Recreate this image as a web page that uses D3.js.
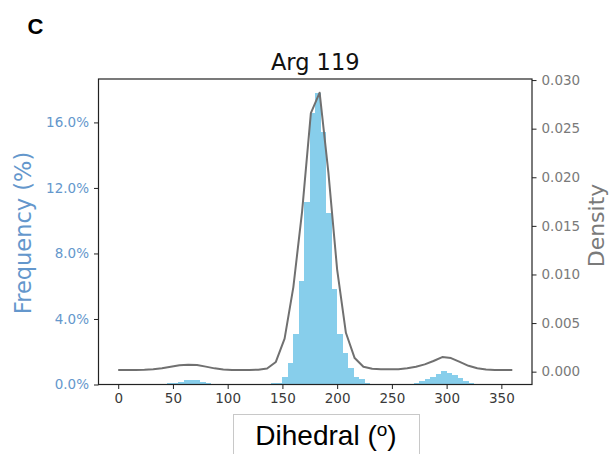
<!DOCTYPE html>
<html>
<head>
<meta charset="utf-8">
<script src="https://cdn.jsdelivr.net/npm/d3@7"></script>
<style>
  html, body { margin: 0; padding: 0; background: #ffffff; }
  svg { display: block; }
</style>
</head>
<body>
<svg id="chart" width="611" height="454"></svg>
<script>
// Histogram bins: left edge of each 5-degree bin
const binStarts = [
  0, 5, 10, 15, 20, 25, 30, 35, 40, 45, 50, 55, 60, 65, 70, 75, 80, 85,
  90, 95, 100, 105, 110, 115, 120, 125, 130, 135, 140, 145, 150, 155, 160, 165, 170, 175,
  180, 185, 190, 195, 200, 205, 210, 215, 220, 225, 230, 235, 240, 245, 250, 255, 260, 265,
  270, 275, 280, 285, 290, 295, 300, 305, 310, 315, 320, 325, 330, 335, 340, 345, 350, 355
];
const binWidth = 5;

// Frequency (%) per bin
const frequency = [
  0, 0, 0, 0, 0, 0, 0, 0, 0, 0.07, 0.07, 0.15, 0.25, 0.27, 0.25, 0.17, 0.08, 0.06,
  0, 0, 0, 0, 0, 0, 0, 0, 0, 0, 0.07, 0.09, 0.44, 1.33, 3.08, 6.29, 11.16, 16.56,
  17.81, 15.43, 10.45, 5.83, 3.08, 1.94, 0.99, 0.48, 0.32, 0.11, 0.05, 0.04, 0.04, 0.03, 0.04, 0.05, 0.05, 0.05,
  0.12, 0.20, 0.32, 0.48, 0.65, 0.80, 0.72, 0.55, 0.37, 0.22, 0.12, 0.06, 0.02, 0, 0, 0, 0, 0
];

// Kernel density estimate: evaluation angles and density values
const kdeAngles = [
  0, 8, 16, 24, 32, 40, 48, 56, 64, 72, 80, 88, 96, 104, 112, 120, 128, 136, 144, 152, 160, 168,
  176, 184, 192, 200, 208, 216, 224, 232, 240, 248, 256, 264, 272, 280, 288, 296, 304, 312, 320,
  328, 336, 344, 352, 360
];
const kdeDensity = [
  0.00017, 0.00017, 0.00018, 0.00020, 0.00025, 0.00035, 0.00050, 0.00065, 0.00072, 0.00068, 0.00052,
  0.00034, 0.00022, 0.00018, 0.00017, 0.00017, 0.00020, 0.00032, 0.00100, 0.00340, 0.00870, 0.01650,
  0.02660, 0.02870, 0.02050, 0.01050, 0.00400, 0.00140, 0.00050, 0.00030, 0.00025, 0.00024, 0.00026,
  0.00035, 0.00050, 0.00075, 0.00110, 0.00150, 0.00140, 0.00100, 0.00060, 0.00035, 0.00022, 0.00018,
  0.00017, 0.00017
];

// Axis ticks
const xTicks = [0, 50, 100, 150, 200, 250, 300, 350];
const freqTicks = [0, 4, 8, 12, 16];
const densityTicks = [0, 0.005, 0.010, 0.015, 0.020, 0.025, 0.030];

const titleText = "Arg 119";
const panelLetter = "C";

// ---- layout ----
const plot = { left: 98.5, right: 532, top: 79, bottom: 384.5 };
const tickFont = "'DejaVu Sans', sans-serif";
const freqColor = "#6497cc";
const densColor = "#7a7a7a";
const barColor = "#87ceeb";
const lineColor = "#707070";

const svg = d3.select("#chart");
svg.append("rect").attr("width", 611).attr("height", 454).attr("fill", "#ffffff");

const x = d3.scaleLinear().domain([-18, 378]).range([plot.left, plot.right]);
const yFreq = d3.scaleLinear().domain([0, 18.65]).range([plot.bottom, plot.top]);
const yDens = d3.scaleLinear().domain([-0.00132, 0.03011]).range([plot.bottom, plot.top]);

// histogram bars
const bins = binStarts.map((s, i) => ({ start: s, value: frequency[i] }));
svg.append("g")
  .selectAll("rect")
  .data(bins.filter(d => d.value > 0))
  .join("rect")
  .attr("x", d => x(d.start))
  .attr("width", d => x(d.start + binWidth) - x(d.start))
  .attr("y", d => yFreq(d.value))
  .attr("height", d => yFreq(0) - yFreq(d.value))
  .attr("fill", barColor)
  .attr("shape-rendering", "crispEdges");

// density curve
const kde = kdeAngles.map((a, i) => ({ a, d: kdeDensity[i] }));
svg.append("path")
  .datum(kde)
  .attr("fill", "none")
  .attr("stroke", lineColor)
  .attr("stroke-width", 2)
  .attr("stroke-linejoin", "round")
  .attr("d", d3.line().x(d => x(d.a)).y(d => yDens(d.d)));

// axes
function styleAxis(g, color) {
  g.select(".domain").remove();
  g.selectAll(".tick line").attr("stroke", "#222").attr("stroke-width", 1);
  g.selectAll(".tick text")
    .attr("fill", color)
    .style("font-family", tickFont)
    .style("font-size", "13.5px");
}

svg.append("g")
  .attr("transform", `translate(0,${plot.bottom})`)
  .call(d3.axisBottom(x).tickValues(xTicks).tickSize(4.5).tickPadding(4).tickFormat(d3.format("d")))
  .call(g => styleAxis(g, "#3a3a3a"));

svg.append("g")
  .attr("transform", `translate(${plot.left},0)`)
  .call(d3.axisLeft(yFreq).tickValues(freqTicks).tickSize(4.5).tickPadding(5)
    .tickFormat(d => d3.format(".1f")(d) + "%"))
  .call(g => styleAxis(g, freqColor));

svg.append("g")
  .attr("transform", `translate(${plot.right},0)`)
  .call(d3.axisRight(yDens).tickValues(densityTicks).tickSize(4.5).tickPadding(5)
    .tickFormat(d3.format(".3f")))
  .call(g => styleAxis(g, densColor));

// frame
svg.append("rect")
  .attr("x", plot.left).attr("y", plot.top)
  .attr("width", plot.right - plot.left).attr("height", plot.bottom - plot.top)
  .attr("fill", "none").attr("stroke", "#222").attr("stroke-width", 1.2);

// title
svg.append("text")
  .attr("x", (plot.left + plot.right) / 2).attr("y", 70)
  .attr("text-anchor", "middle")
  .style("font-family", tickFont).style("font-size", "22.5px").attr("fill", "#111")
  .text(titleText);

// panel letter
svg.append("text")
  .attr("x", 27.5).attr("y", 33.5)
  .style("font-family", "'Liberation Sans', Arial, sans-serif")
  .style("font-size", "22px").style("font-weight", "bold").attr("fill", "#000")
  .text(panelLetter);

// y-axis titles
svg.append("text")
  .attr("transform", "translate(31,233) rotate(-90)")
  .attr("text-anchor", "middle")
  .style("font-family", tickFont).style("font-size", "22.5px").attr("fill", freqColor)
  .text("Frequency (%)");

svg.append("text")
  .attr("transform", "translate(604,225.5) rotate(-90)")
  .attr("text-anchor", "middle")
  .style("font-family", tickFont).style("font-size", "22px").attr("fill", densColor)
  .text("Density");

// x-axis title in a framed box
svg.append("rect")
  .attr("x", 233.5).attr("y", 414.5).attr("width", 186).attr("height", 50)
  .attr("fill", "#ffffff").attr("stroke", "#c8c8c8").attr("stroke-width", 1);

const xl = svg.append("text")
  .attr("x", 326).attr("y", 445)
  .attr("text-anchor", "middle")
  .style("font-family", "'Liberation Sans', Arial, sans-serif")
  .style("font-size", "28px").attr("fill", "#000");
xl.append("tspan").text("Dihedral (");
xl.append("tspan").attr("dy", -9).style("font-size", "19px").text("o");
xl.append("tspan").attr("dy", 9).text(")");
</script>
</body>
</html>
